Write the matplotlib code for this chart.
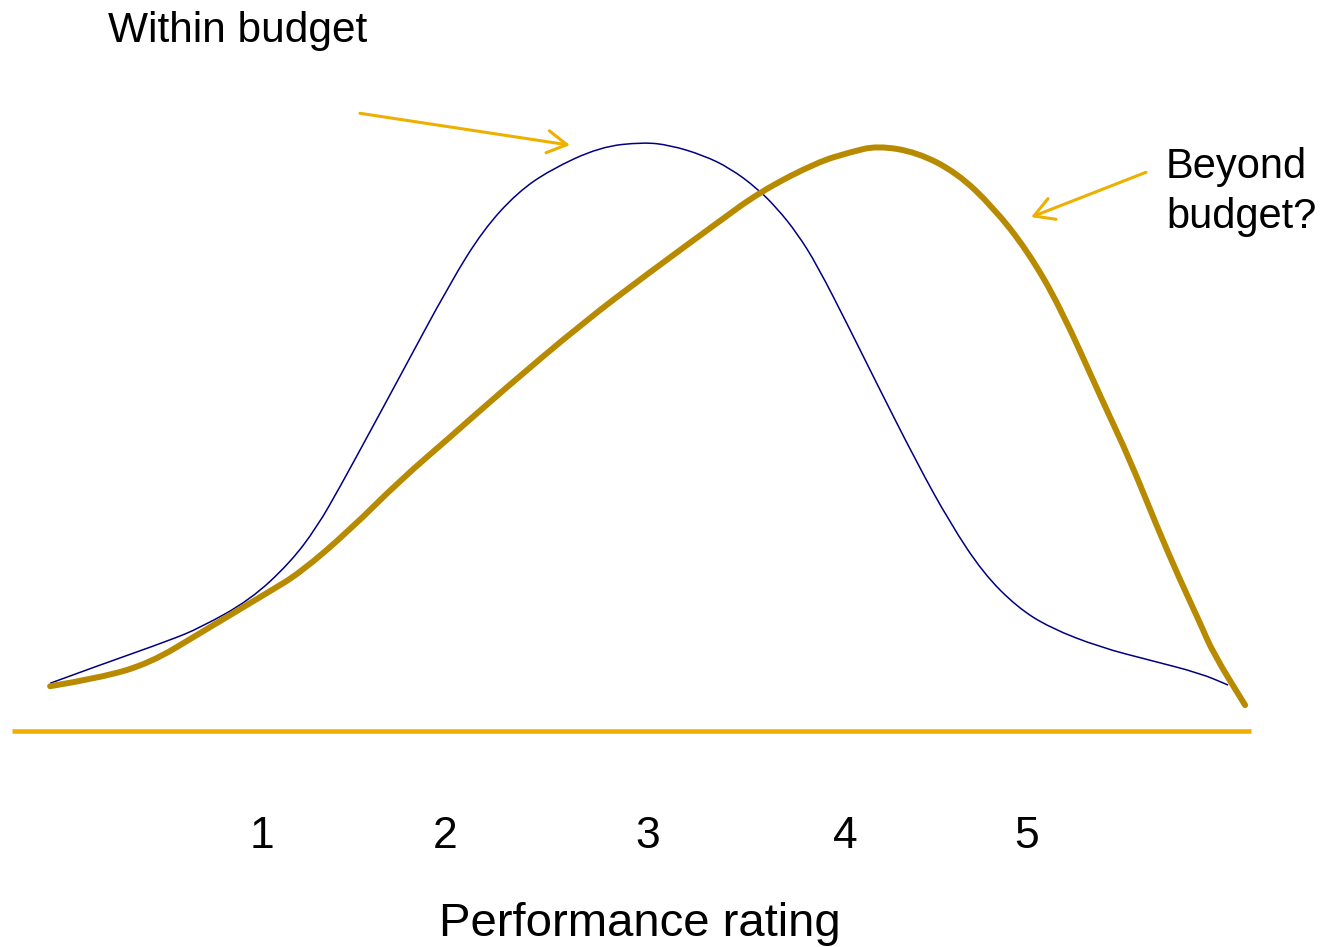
import matplotlib.pyplot as plt
from matplotlib.path import Path
from matplotlib.patches import PathPatch

plt.rcParams['font.family'] = ['Liberation Sans', 'DejaVu Sans']

# Within budget: rating vs relative frequency
within_x = [-0.108, 0.153, 0.519, 0.676, 0.937, 1.146, 1.288, 1.408, 1.549, 1.711,
            1.983, 2.156, 2.333, 2.506, 2.767, 2.992, 3.133, 3.306, 3.447, 3.588,
            3.693, 3.797, 3.902, 4.075, 4.205, 4.425, 4.597, 4.770, 4.948, 5.120,
            5.382, 5.643, 5.905, 6.051]
within_y = [0.081, 0.112, 0.154, 0.175, 0.222, 0.285, 0.346, 0.414, 0.498, 0.595,
            0.759, 0.849, 0.912, 0.951, 0.990, 0.998, 0.993, 0.976, 0.954, 0.920,
            0.886, 0.844, 0.790, 0.680, 0.595, 0.454, 0.353, 0.268, 0.210, 0.175,
            0.142, 0.120, 0.098, 0.078]

# Beyond budget
beyond_x = [-0.108, 0.153, 0.414, 0.676, 1.026, 1.199, 1.460, 1.722, 1.983, 2.244,
            2.678, 3.029, 3.379, 3.604, 3.902, 4.075, 4.216, 4.425, 4.634, 4.822,
            5.000, 5.173, 5.392, 5.539, 5.680, 5.800, 5.905, 5.973, 6.140]
beyond_y = [0.076, 0.090, 0.115, 0.166, 0.234, 0.268, 0.341, 0.425, 0.498, 0.573,
            0.692, 0.778, 0.861, 0.914, 0.964, 0.981, 0.992, 0.981, 0.946, 0.888,
            0.815, 0.719, 0.561, 0.459, 0.346, 0.256, 0.183, 0.132, 0.044]

tick_pos = [1.0, 1.957, 3.018, 4.048, 5.0]
tick_labels = ['1', '2', '3', '4', '5']

gold = '#EEB000'


def smooth_path(xs, ys):
    # quadratic bezier through midpoints, points act as control points
    pts = list(zip(xs, ys))
    verts = [pts[0]]
    codes = [Path.MOVETO]
    for i in range(1, len(pts) - 1):
        mid = ((pts[i][0] + pts[i + 1][0]) / 2, (pts[i][1] + pts[i + 1][1]) / 2)
        verts += [pts[i], mid]
        codes += [Path.CURVE3, Path.CURVE3]
    verts.append(pts[-1])
    codes.append(Path.LINETO)
    return Path(verts, codes)


fig = plt.figure(figsize=(13.21, 9.47), dpi=100)
ax = fig.add_axes([0, 0, 1, 1])
ax.set_xlim(-0.370, 6.537)
ax.set_ylim(-0.366, 1.239)
ax.axis('off')

# baseline
ax.plot([-0.307, 6.171], [0, 0], color=gold, lw=3.3, solid_capstyle='butt')

ax.add_patch(PathPatch(smooth_path(within_x, within_y), fill=False,
                       edgecolor='#000080', lw=1.1, joinstyle='round'))
ax.add_patch(PathPatch(smooth_path(beyond_x, beyond_y), fill=False,
                       edgecolor='#B88A00', lw=4.3, capstyle='round',
                       joinstyle='round'))

for x, lab in zip(tick_pos, tick_labels):
    ax.text(x, -0.199, lab, ha='center', va='baseline', fontsize=32)

fig.text(640 / 1321, 1 - 936 / 947, 'Performance rating', ha='center',
         va='baseline', fontsize=34)

# callouts
arrow = dict(arrowstyle='->,head_length=0.7,head_width=0.4', color=gold,
             lw=2.2, shrinkA=0, shrinkB=0, mutation_scale=20)
ax.annotate('', xy=(2.610, 0.993), xytext=(1.512, 1.047), arrowprops=arrow)
ax.annotate('', xy=(5.021, 0.871), xytext=(5.622, 0.947), arrowprops=arrow)

fig.text(108 / 1321, 1 - 42 / 947, 'Within budget', ha='left', va='baseline',
         fontsize=30.5)
fig.text(1166 / 1321, 1 - 178 / 947, 'Beyond', ha='left', va='baseline',
         fontsize=30)
fig.text(1166 / 1321, 1 - 228 / 947, 'budget?', ha='left', va='baseline',
         fontsize=30)

fig.savefig('out.png', dpi=100)
